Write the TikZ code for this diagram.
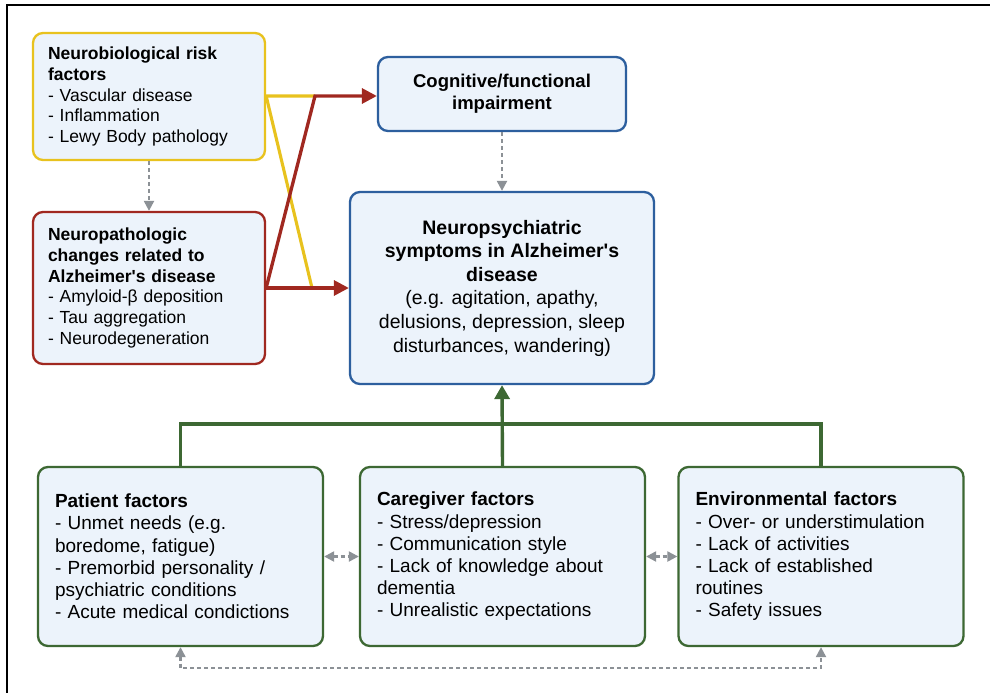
\documentclass[tikz,border=0pt]{standalone}
\usepackage{fontspec}
\setmainfont{Liberation Sans}
\usetikzlibrary{arrows.meta}
\definecolor{boxfill}{HTML}{ECF3FB}
\definecolor{ylw}{HTML}{E8C21E}
\definecolor{rd}{HTML}{A02820}
\definecolor{blu}{HTML}{2D5F9E}
\definecolor{grn}{HTML}{3D6833}
\definecolor{gry}{HTML}{8C9196}
\tikzset{gtip/.tip={Triangle[length=10pt,width=10pt]}}
\begin{document}
\begin{tikzpicture}[x=1pt,y=-1pt,
  box/.style={draw, line width=2.3pt, fill=boxfill, rounded corners=10pt, inner ysep=0pt},
  smallbox/.style={box, font=\fontsize{17.5}{20.7}\selectfont, align=left, inner xsep=15pt, text width=202pt, minimum width=232pt},
  botbox/.style={box, draw=grn, font=\fontsize{19}{22.2}\selectfont, align=left, inner xsep=17pt, text width=251pt, minimum width=285pt, minimum height=179pt},
  redarr/.style={draw=rd, line width=3.3pt, -{Triangle[length=15pt,width=15pt]}},
  ylwline/.style={draw=ylw, line width=3.1pt},
  grnline/.style={draw=grn, line width=3.4pt},
  graydash/.style={draw=gry, line width=2.2pt, dash pattern=on 4pt off 3pt}
]
\useasboundingbox (0,0) rectangle (990,693);
\fill[white] (0,0) rectangle (990,693);
% outer frame (top and left edges visible)
\draw[line width=2.6pt] (7,693) -- (7,5) -- (990,5);

% boxes
\node[smallbox, draw=ylw, minimum height=127pt] (A) at (149,96.5)
 {\textbf{Neurobiological risk}\\\textbf{factors}\\- Vascular disease\\- Inflammation\\- Lewy Body pathology};
\node[smallbox, draw=rd, minimum height=152pt] (B) at (149,288)
 {\textbf{Neuropathologic}\\\textbf{changes related to}\\\textbf{Alzheimer\textquotesingle s disease}\\- Amyloid-β deposition\\- Tau aggregation\\- Neurodegeneration};
\node[box, draw=blu, align=center, font=\fontsize{18.5}{22}\selectfont\bfseries, minimum width=248pt, minimum height=74pt] (C) at (502,94)
 {Cognitive/functional\\impairment};
\node[box, draw=blu, align=center, font=\fontsize{19.5}{23.6}\selectfont, minimum width=304pt, minimum height=192pt] (D) at (502,288)
 {\textbf{Neuropsychiatric}\\\textbf{symptoms in Alzheimer\textquotesingle s}\\\textbf{disease}\\(e.g. agitation, apathy,\\delusions, depression, sleep\\disturbances, wandering)};
\node[botbox] (E) at (180.5,556.5)
 {\textbf{Patient factors}\\- Unmet needs (e.g.\\boredome, fatigue)\\- Premorbid personality /\\psychiatric conditions\\- Acute medical condictions};
\node[botbox] (F) at (502.5,556.5)
 {\textbf{Caregiver factors}\\- Stress/depression\\- Communication style\\- Lack of knowledge about\\dementia\\- Unrealistic expectations};
\node[botbox] (G) at (821,556.5)
 {\textbf{Environmental factors}\\- Over- or understimulation\\- Lack of activities\\- Lack of established\\routines\\- Safety issues};

% coordinates for the crossing connectors
\coordinate (ya) at (315,96);
\coordinate (yb) at (312,288);

% yellow lines
\draw[ylwline] (ya) -- (A.east |- ya) -- (yb);
% red lines
\draw[redarr] (B.east) -- (D.west |- B.east);
\draw[redarr] (B.east) -- (ya) -- (C.west |- ya);

% gray dashed
\draw[graydash, -{gtip}] (A.south) -- (B.north);
\draw[graydash, -{gtip}] (C.south) -- (D.north);
\draw[graydash, {gtip}-{gtip}] (E.east) -- (F.west);
\draw[graydash, {gtip}-{gtip}] (F.east) -- (G.west);
\draw[graydash, {gtip}-{gtip}] (E.south) -- (E.south |- 0,668) -- (G.south |- 0,668) -- (G.south);

% green connectors
\draw[grnline] (E.north) -- (E.north |- 0,424) -- (G.north |- 0,424) -- (G.north);
\draw[grnline, -{Triangle[length=14pt,width=15pt]}] (F.north) -- (D.south);
\end{tikzpicture}
\end{document}
